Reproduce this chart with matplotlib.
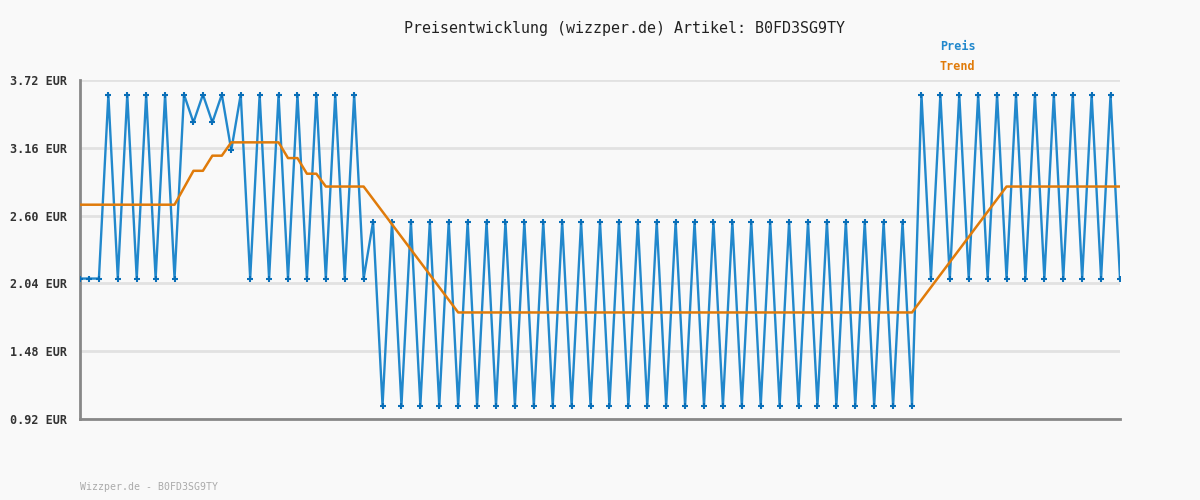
import matplotlib.pyplot as plt
import numpy as np

# price series, one value per data point (index 0..110)
preis = [2.08, 2.08, 2.08,
         3.60, 2.08, 3.60, 2.08, 3.60, 2.08, 3.60, 2.08,
         3.60, 3.37, 3.60, 3.37, 3.60, 3.14, 3.60,
         2.08, 3.60, 2.08, 3.60, 2.08, 3.60, 2.08, 3.60, 2.08, 3.60, 2.08, 3.60, 2.08,
         2.55,
         1.03, 2.55, 1.03, 2.55, 1.03, 2.55, 1.03, 2.55, 1.03, 2.55,
         1.03, 2.55, 1.03, 2.55, 1.03, 2.55, 1.03, 2.55, 1.03, 2.55,
         1.03, 2.55, 1.03, 2.55, 1.03, 2.55, 1.03, 2.55, 1.03, 2.55,
         1.03, 2.55, 1.03, 2.55, 1.03, 2.55, 1.03, 2.55, 1.03, 2.55,
         1.03, 2.55, 1.03, 2.55, 1.03, 2.55, 1.03, 2.55, 1.03, 2.55,
         1.03, 2.55, 1.03, 2.55, 1.03, 2.55, 1.03,
         3.60, 2.08, 3.60, 2.08, 3.60, 2.08, 3.60, 2.08, 3.60, 2.08, 3.60,
         2.08, 3.60, 2.08, 3.60, 2.08, 3.60, 2.08, 3.60, 2.08, 3.60, 2.08]

# trend line vertices (point index, value)
trend_x = [0, 10, 12, 13, 14, 15, 16, 21, 22, 23, 24, 25, 26, 30, 40, 88, 98, 110]
trend_y = [2.69, 2.69, 2.97, 2.97, 3.095, 3.095, 3.205, 3.205, 3.075, 3.075,
           2.946, 2.946, 2.84, 2.84, 1.80, 1.80, 2.84, 2.84]

yticks = [0.92, 1.48, 2.04, 2.60, 3.16, 3.72]

bg = '#f9f9f9'
blue = '#2288cc'
orange = '#e07b0a'
mono = ['DejaVu Sans Mono']

fig = plt.figure(figsize=(12, 5), dpi=100, facecolor=bg)
ax = fig.add_axes([80/1200, 81/500, 1040/1200, 339/500], facecolor=bg)

x = np.arange(len(preis))
ax.plot(x, preis, color=blue, lw=1.7, marker='+', ms=4, mew=1.5, mec='#0a6fb8', zorder=3)
ax.plot(trend_x, trend_y, color=orange, lw=1.8, zorder=4)

ax.set_xlim(0, len(preis) - 1)
ax.set_ylim(0.92, 3.72)
ax.set_yticks(yticks)
ax.set_yticklabels(['%.2f EUR' % v for v in yticks], family=mono, fontsize=8.5,
                   fontweight='bold', color='#333333')
ax.set_xticks([])
ax.tick_params(axis='y', length=0, pad=9)
ax.grid(axis='y', color='#e2e2e2', lw=2)
ax.set_axisbelow(True)
for s in ['top', 'right']:
    ax.spines[s].set_visible(False)
for s in ['left', 'bottom']:
    ax.spines[s].set_color('#888888')
    ax.spines[s].set_linewidth(2)

fig.text(0.5 + 24/1200, 1 - 28/500, 'Preisentwicklung (wizzper.de) Artikel: B0FD3SG9TY',
         ha='center', va='center', family=mono, fontsize=10.8, color='#222222')
fig.text(940/1200, 1 - 47/500, 'Preis', ha='left', va='center', family=mono,
         fontsize=8.5, fontweight='bold', color=blue)
fig.text(940/1200, 1 - 67/500, 'Trend', ha='left', va='center', family=mono,
         fontsize=8.5, fontweight='bold', color=orange)
fig.text(80/1200, 1 - 487/500, 'Wizzper.de - B0FD3SG9TY', ha='left', va='center',
         family=mono, fontsize=7.1, color='#aaaaaa')

fig.savefig('out.png', dpi=100, facecolor=bg)
